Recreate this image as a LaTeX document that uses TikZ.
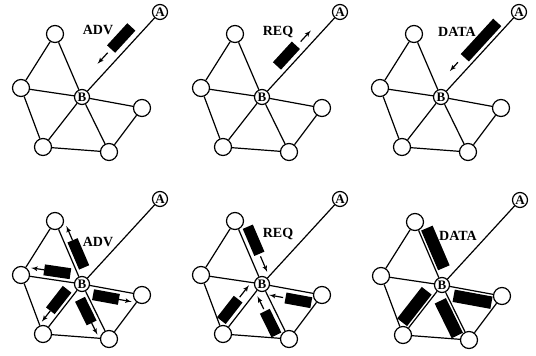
\documentclass[tikz,border=0pt]{standalone}
\usepackage{fontspec}
\setmainfont{Liberation Serif}
\usetikzlibrary{arrows}
\usetikzlibrary{calc}

\tikzset{
  nd/.style={draw,circle,fill=white,minimum size=17pt,inner sep=0pt},
  ab/.style={draw,circle,fill=white,minimum size=15pt,inner sep=0pt,font=\bfseries\fontsize{13}{13}\selectfont},
  lbl/.style={font=\bfseries\fontsize{14}{14}\selectfont,inner sep=0pt},
  pkt/.style={line width=11pt},
  bigpkt/.style={line width=12.5pt},
}

\begin{document}
\begin{tikzpicture}[x=1pt,y=-1pt,line width=1.2pt,>=latex']
\useasboundingbox (0,0) rectangle (536,356);
% six copies of the same mesh, B in the middle, A far up right
\foreach \p/\x/\y/\t/\ly in {1/82/97/ADV/-67,2/262/97/REQ/-65,3/441/97/DATA/-65,
                             4/82/284/ADV/-42,5/262/284/REQ/-50,6/442/285/DATA/-49}{
  \begin{scope}[shift={(\x,\y)}]
  \node[ab] (B\p) at (0,0) {B};
  \node[ab] (A\p) at (78,-85) {A};
  \node[nd] (T\p) at (-27,-63) {};
  \node[nd] (L\p) at (-61,-9) {};
  \node[nd] (R\p) at (60,11) {};
  \node[nd] (D\p) at (-39,50) {};
  \node[nd] (E\p) at (27,55) {};
  \node[lbl] (msg\p) at (16,\ly) {\t};
  \end{scope}
  \draw (T\p) -- (L\p) -- (D\p) -- (E\p) -- (R\p);
  \draw (B\p) -- (A\p) (B\p) -- (T\p) (B\p) -- (L\p) (B\p) -- (R\p) (B\p) -- (D\p) (B\p) -- (E\p);
}

% top row: one packet on the A--B link
\draw[pkt] ($(B1)!55pt!(A1)!11pt!90:(A1)$) -- ($(B1)!85pt!(A1)!11pt!90:(A1)$);
\draw[->] ($(B1)!50pt!(A1)!11pt!90:(A1)$) -- ($(B1)!35pt!(A1)!11pt!90:(A1)$);
\draw[pkt] ($(B2)!33pt!(A2)!10pt!90:(A2)$) -- ($(B2)!61pt!(A2)!10pt!90:(A2)$);
\draw[->] ($(B2)!67pt!(A2)!9pt!90:(A2)$) -- ($(B2)!82pt!(A2)!9pt!90:(A2)$);
\draw[pkt] ($(B3)!45pt!(A3)!9pt!90:(A3)$) -- ($(B3)!93pt!(A3)!9pt!90:(A3)$);
\draw[->] ($(B3)!37pt!(A3)!11pt!90:(A3)$) -- ($(B3)!25pt!(A3)!11pt!90:(A3)$);

% bottom row: B floods ADV, neighbours answer with REQ, B sends DATA
\foreach \n in {T,L,R,D,E}{
  \draw[pkt] ($(B4)!0.21!(\n4)!8.5pt!-90:(\n4)$) -- ($(B4)!0.64!(\n4)!8.5pt!-90:(\n4)$);
  \draw[->] ($(B4)!0.64!(\n4)!8.5pt!-90:(\n4)$) -- ($(\n4)!9pt!(B4)!8.5pt!90:(B4)$);
}
\foreach \n in {T,R,D,E}{
  \draw[pkt] ($(B5)!0.42!(\n5)!9.5pt!-90:(\n5)$) -- ($(B5)!0.85!(\n5)!9.5pt!-90:(\n5)$);
  \draw[->] ($(B5)!0.38!(\n5)!9.5pt!-90:(\n5)$) -- ($(B5)!9pt!(\n5)!9.5pt!-90:(\n5)$);
  \draw[bigpkt] ($(B6)!0.22!(\n6)!8.5pt!-90:(\n6)$) -- ($(B6)!0.85!(\n6)!8.5pt!-90:(\n6)$);
}
\end{tikzpicture}
\end{document}
